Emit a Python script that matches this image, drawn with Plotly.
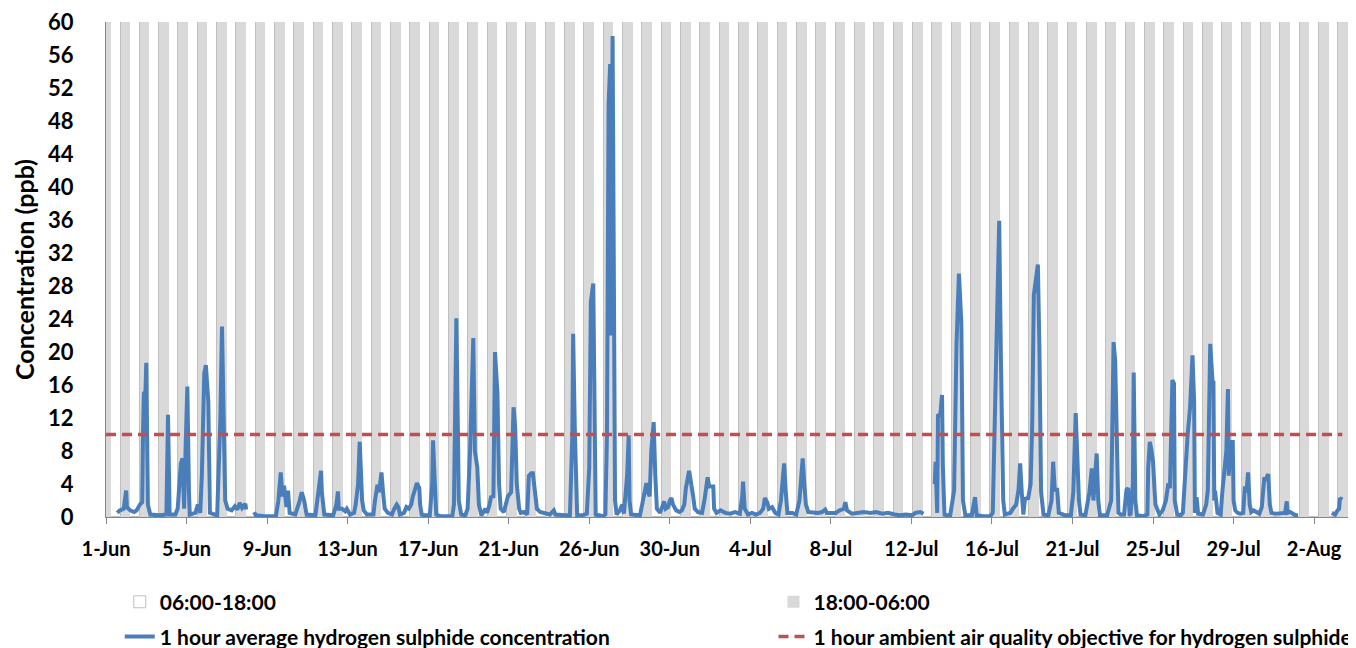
import plotly.graph_objects as go

# ---------------- data ----------------
# x positions are hours since 1-Jun 00:00 (hourly category axis)
tick_hours = [0, 100, 200, 300, 400, 500, 600, 700, 800, 900, 1000, 1100, 1200, 1300, 1400, 1500]
tick_labels = ["1-Jun", "5-Jun", "9-Jun", "13-Jun", "17-Jun", "21-Jun", "26-Jun", "30-Jun",
               "4-Jul", "8-Jul", "12-Jul", "16-Jul", "21-Jul", "25-Jul", "29-Jul", "2-Aug"]

n_days = 65                 # days covered by the day/night background
objective_ppb = 10          # 1 hour ambient air quality objective
objective_hours = [0, 1535]
y_max = 60

hours = [
    14, 17, 22, 25, 26, 30, 35, 38, 42, 45, 46, 47, 49, 50, 51, 52, 55, 67, 75, 77, 79, 86, 89, 93, 95, 97,
    99, 101, 103, 104, 111, 114, 117, 119, 122, 124, 127, 128, 129, 138, 142, 144, 145, 148, 151, 156,
    160, 163, 166, 169, 173, 174,
    179,
    184, 186, 197, 211, 214, 217, 219, 221, 224, 226, 228, 235, 240, 243, 246, 249, 260, 263, 267, 268,
    271, 282, 286, 288, 289, 293, 297, 299, 303, 308, 310, 313, 315, 318, 320, 324, 332, 334, 337, 339,
    342, 344, 346, 350, 355, 358, 361, 363, 365, 370, 373, 376, 379, 381, 384, 386, 389, 390, 392, 396,
    402, 405, 406, 409, 410, 415, 430, 432, 435, 437, 438, 441, 446, 449, 452, 456, 458, 461, 463, 466,
    471, 473, 476, 478, 481, 483, 486, 488, 490, 494, 499, 503, 506, 508, 510, 513, 515, 519, 523, 525,
    528, 530, 533, 535, 539, 545, 551, 556, 558, 570, 576, 579, 580, 582, 584, 585, 592, 597, 600, 602,
    605, 607, 608, 617, 620, 622, 624, 626, 627, 629, 631, 632, 634, 638, 641, 643, 647, 649, 650, 652,
    663, 669, 671, 673, 675, 677, 680, 682, 684, 688, 690, 693, 695, 698, 700, 702, 704, 708, 712, 715,
    718, 720, 724, 726, 729, 731, 735, 740, 743, 747, 749, 751, 754, 755, 758, 763, 769, 775, 781, 787,
    790, 791, 793, 797, 802, 807, 812, 816, 818, 821, 823, 827, 831, 835, 838, 841, 842, 844, 846, 852,
    857, 861, 863, 865, 867, 869, 872, 878, 884, 889, 893, 895, 902, 906, 911, 916, 918, 920, 926, 934,
    941, 949, 956, 964, 971, 979, 986, 993, 1001, 1005, 1011, 1015,
    1022,
    1029, 1030, 1032, 1033, 1036, 1038, 1039, 1041, 1048, 1053, 1056, 1059, 1062, 1064, 1067, 1075, 1079,
    1081, 1089, 1098, 1101, 1105, 1109, 1111, 1114, 1116, 1123, 1126, 1130, 1133, 1135, 1137, 1139, 1141,
    1145, 1148, 1150, 1152, 1157, 1159, 1161, 1164, 1170, 1174, 1176, 1178, 1181, 1183, 1191, 1198, 1201,
    1204, 1206, 1208, 1210, 1216, 1221, 1224, 1226, 1228, 1230, 1232, 1234, 1243, 1248, 1249, 1251, 1253,
    1255, 1257, 1260, 1264, 1267, 1269, 1271, 1272, 1275, 1276, 1278, 1280, 1288, 1293, 1294, 1296, 1298,
    1300, 1302, 1303, 1305, 1308, 1312, 1316, 1319, 1321, 1324, 1326, 1327, 1330, 1334, 1337, 1338, 1341,
    1343, 1346, 1349, 1351, 1352, 1354, 1356, 1362, 1366, 1368, 1369, 1371, 1374, 1375, 1376, 1377, 1380,
    1384, 1386, 1389, 1391, 1393, 1394, 1396, 1399, 1400, 1402, 1405, 1408, 1412, 1414, 1416, 1418, 1420,
    1422, 1425, 1428, 1432, 1435, 1438, 1440, 1443, 1445, 1447, 1452, 1457, 1464, 1466, 1467, 1470, 1474,
    1477, 1480,
    1500,
    1522, 1526, 1529, 1531, 1532, 1535,
]

h2s_ppb = [
    0.5, 0.8, 1.0, 3.2, 1.2, 0.8, 0.6, 0.8, 1.5, 1.8, 10.5, 15.0, 15.2, 18.7, 10.0, 1.5, 0.3, 0.2, 0.3, 12.4, 0.3, 0.3, 1.0, 6.5, 7.1, 1.0,
    9.0, 15.8, 3.0, 0.3, 0.5, 1.5, 0.5, 5.0, 17.4, 18.4, 14.0, 8.0, 0.5, 0.2, 12.0, 23.1, 19.0, 2.0, 1.0, 0.8,
    1.3, 0.9, 1.7, 1.1, 1.6, 0.9,
    None,
    0.6, 0.2, 0.1, 0.1, 2.0, 5.4, 2.5, 3.8, 1.2, 3.2, 0.5, 0.3, 1.8, 3.0, 2.0, 0.3, 0.2, 2.5, 5.6, 3.0,
    0.3, 0.2, 1.5, 3.1, 1.0, 1.0, 0.7, 1.0, 0.3, 0.5, 1.5, 4.0, 9.1, 2.0, 0.8, 0.3, 0.3, 2.0, 3.9, 3.0,
    5.4, 3.0, 1.0, 0.5, 0.3, 1.0, 1.5, 1.2, 0.3, 0.5, 1.2, 1.0, 1.5, 2.5, 3.5, 4.1, 3.5, 1.5, 0.3, 0.2,
    0.2, 4.0, 9.3, 3.0, 0.3, 0.1, 0.1, 1.5, 24.1, 10.0, 2.0, 0.3, 0.2, 1.0, 8.0, 21.7, 8.0, 6.0, 1.5, 0.2,
    1.0, 0.5, 1.4, 2.4, 2.5, 20.0, 15.0, 4.0, 1.0, 0.6, 2.5, 3.0, 13.3, 11.0, 4.0, 1.0, 0.5, 0.6, 0.3, 5.0,
    5.3, 5.3, 3.0, 1.0, 0.6, 0.4, 0.3, 0.8, 0.3, 0.2, 0.2, 10.0, 22.2, 11.0, 2.0, 0.2, 0.2, 0.4, 6.0, 26.1,
    28.3, 12.0, 0.3, 0.1, 0.3, 10.0, 50.0, 54.9, 22.0, 58.3, 25.0, 2.0, 0.3, 0.8, 1.5, 0.4, 5.0, 9.9, 2.0, 0.3,
    0.2, 3.0, 4.1, 3.0, 2.5, 8.0, 11.5, 5.0, 1.0, 0.5, 1.2, 1.9, 1.0, 1.2, 2.0, 2.3, 1.5, 0.8, 0.6, 0.8,
    1.5, 3.5, 5.6, 4.5, 2.5, 1.0, 0.6, 0.5, 2.0, 4.8, 3.7, 3.7, 3.7, 1.0, 0.5, 0.8, 0.5, 0.4, 0.6, 0.4,
    2.5, 4.3, 1.0, 0.3, 0.5, 0.3, 0.5, 1.0, 2.3, 1.8, 1.0, 1.2, 0.5, 0.3, 2.0, 5.4, 6.5, 3.0, 0.5, 0.5,
    0.3, 2.0, 5.0, 7.1, 4.0, 1.5, 0.6, 0.5, 0.5, 0.6, 0.9, 0.5, 0.5, 0.5, 0.8, 1.0, 1.8, 0.8, 0.4, 0.5,
    0.6, 0.5, 0.6, 0.4, 0.5, 0.3, 0.2, 0.3, 0.2, 0.5, 0.6, 0.4,
    None,
    4.0, 6.7, 0.5, 12.3, 12.5, 14.8, 6.3, 0.3, 0.1, 3.2, 21.0, 29.5, 23.5, 2.0, 0.2, 0.2, 2.4,
    0.2, 0.1, 0.1, 0.5, 20.0, 35.9, 20.0, 2.0, 0.3, 0.5, 1.0, 1.5, 3.3, 6.5, 3.0, 0.3, 2.2,
    2.3, 4.0, 11.3, 26.9, 30.6, 20.0, 3.0, 0.3, 0.2, 2.0, 6.7, 3.3, 3.3, 0.5, 0.2, 0.2, 3.0,
    12.6, 6.8, 2.0, 0.3, 0.2, 3.0, 5.9, 2.0, 5.0, 7.7, 2.0, 0.2, 0.2, 2.0, 8.0, 21.2, 19.0,
    7.0, 0.5, 0.3, 0.3, 3.3, 3.5, 0.3, 0.2, 4.0, 17.5, 2.0, 0.2, 0.1, 0.3, 6.0, 9.1, 8.1,
    6.7, 3.0, 1.5, 1.0, 0.3, 0.8, 2.0, 4.1, 3.5, 16.6, 16.2, 2.0, 0.3, 0.2, 0.5, 2.0, 8.1,
    10.0, 13.3, 19.6, 14.0, 0.5, 2.4, 0.4, 0.3, 1.5, 3.2, 8.0, 21.0, 16.2, 16.5, 2.0, 3.2, 0.5,
    0.3, 3.0, 6.8, 8.0, 15.5, 5.0, 9.1, 9.1, 2.0, 0.8, 0.5, 0.4, 0.5, 3.7, 3.0, 5.4, 1.5,
    0.6, 0.8, 0.6, 0.4, 1.2, 4.6, 4.6, 5.2, 1.5, 0.5, 0.4, 0.4, 0.5, 1.9, 0.5, 0.6, 0.3,
    0.2, 0.2,
    None,
    0.5, 0.3, 0.8, 1.0, 2.3, 2.1,
]

# ---------------- background bands ----------------
night_centers = [24 * d for d in range(n_days + 1)]        # 18:00-06:00 centred on midnight
day_centers = [24 * d + 12 for d in range(n_days)]         # 06:00-18:00 centred on noon

FONT = "Lato"
fig = go.Figure()

fig.add_trace(go.Bar(
    x=day_centers, y=[y_max] * len(day_centers), width=12,
    marker=dict(color="white", line=dict(color="#BFBFBF", width=1)),
    name="06:00-18:00", legend="legend", showlegend=True, hoverinfo="skip"))

fig.add_trace(go.Bar(
    x=night_centers, y=[y_max] * len(night_centers), width=12,
    marker=dict(color="#D9D9D9", line=dict(color="#D9D9D9", width=0)),
    name="18:00-06:00", legend="legend2", showlegend=True, hoverinfo="skip"))

fig.add_trace(go.Scatter(
    x=hours, y=h2s_ppb, mode="lines", connectgaps=False,
    line=dict(color="#4A7EBB", width=4),
    name="1 hour average hydrogen sulphide concentration", legend="legend3", showlegend=True))

fig.add_trace(go.Scatter(
    x=objective_hours, y=[objective_ppb] * len(objective_hours), mode="lines",
    line=dict(color="#C0504D", width=3.5, dash="10px,6px"),
    name="1 hour ambient air quality objective for hydrogen sulphide", legend="legend4",
    showlegend=True))

leg_common = dict(orientation="h", xanchor="left", yanchor="middle",
                  bgcolor="rgba(0,0,0,0)", borderwidth=0, visible=True,
                  font=dict(family=FONT, size=21, color="black", weight="bold"))

# the page body adds an 8 px margin, so the figure is 8 px smaller than the window
fig.update_layout(
    width=1348, height=640,
    margin=dict(l=98, r=0, t=14, b=131, autoexpand=False),
    plot_bgcolor="white", paper_bgcolor="white",
    barmode="overlay", bargap=0, showlegend=True,
    font=dict(family=FONT, size=20, color="black", weight="bold"),
    legend=dict(x=0.011, y=-0.172, **leg_common),
    legend2=dict(x=0.534, y=-0.172, **leg_common),
    legend3=dict(x=0.011, y=-0.242, **leg_common),
    legend4=dict(x=0.534, y=-0.242, **leg_common),
    xaxis=dict(
        range=[0, 1552], tickmode="array", tickvals=tick_hours, ticktext=tick_labels,
        ticks="outside", ticklen=6, tickwidth=1, tickcolor="#868686",
        showline=True, linecolor="#868686", linewidth=1,
        showgrid=False, zeroline=False, ticklabelstandoff=8, ticklabeloverflow="allow",
        tickfont=dict(family=FONT, size=20, color="black", weight="bold")),
    yaxis=dict(
        range=[0, y_max], tick0=0, dtick=4, ticks="",
        showline=True, linecolor="#868686", linewidth=1,
        showgrid=False, zeroline=False, ticklabelstandoff=27, ticklabeloverflow="allow",
        tickfont=dict(family=FONT, size=22, color="black", weight="bold"),
        title=dict(text="Concentration (ppb)", standoff=6,
                   font=dict(family=FONT, size=25, color="black", weight="bold"))),
)

fig.write_html("out.html")
